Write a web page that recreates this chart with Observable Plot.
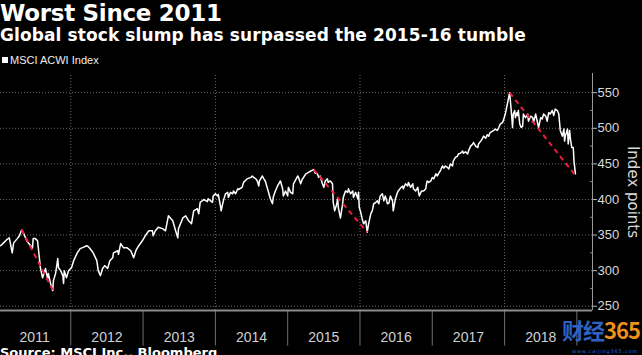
<!DOCTYPE html>
<html>
<head>
<meta charset="utf-8">
<script src="https://cdn.jsdelivr.net/npm/d3@7"></script>
<script src="https://cdn.jsdelivr.net/npm/@observablehq/plot@0.6"></script>
<style>
  html, body { margin: 0; padding: 0; background: #000; }
  body { width: 642px; height: 355px; overflow: hidden; position: relative; font-family: "DejaVu Sans", sans-serif; color: #fff; }
  #title { position: absolute; left: 0; top: 2px; font-weight: bold; font-size: 23px; line-height: 23px; letter-spacing: -0.3px; }
  #subtitle { position: absolute; left: 0; top: 27px; font-weight: bold; font-size: 17px; line-height: 17px; letter-spacing: 0.1px; }
  #legend { position: absolute; left: 2px; top: 54px; font-family: "Liberation Sans", sans-serif; font-size: 11px; line-height: 13px; color: #eee; }
  #legend .sw { display: inline-block; width: 6px; height: 6px; background: #fff; margin-right: 2px; vertical-align: 1px; }
  #chart { position: absolute; left: 0; top: 70px; }
  #source { position: absolute; left: 0; top: 345px; font-weight: bold; font-size: 13px; line-height: 16px; white-space: nowrap; }
  #wm { position: absolute; left: 562px; top: 317px; font-weight: bold; font-size: 22px; line-height: 24px; font-family: "Noto Sans CJK SC", sans-serif; white-space: nowrap; letter-spacing: -1px; }
  #wm .a { color: #2e63c4; } #wm .b { color: #f0901e; }
  #wmurl { position: absolute; left: 572px; top: 348px; font-size: 5px; line-height: 6px; color: #2e63c4; letter-spacing: 0.8px; white-space: nowrap; }
</style>
</head>
<body>
<div id="title">Worst Since 2011</div>
<div id="subtitle">Global stock slump has surpassed the 2015-16 tumble</div>
<div id="legend"><span class="sw"></span>MSCI ACWI Index</div>
<div id="chart"></div>
<div id="source">Source: MSCI Inc., Bloomberg</div>
<div id="wm"><span class="a">财经</span><span class="b">365</span></div>
<div id="wmurl">www.caijing365.com</div>
<script>
// MSCI ACWI Index (decimal year, index points)
const dates = [
2011.03,2011.07,2011.12,2011.15,2011.19,2011.21,2011.26,2011.29,2011.32,2011.35,2011.39,2011.42,2011.47,2011.48,2011.51,2011.54,2011.55,2011.58,2011.61,2011.62,
2011.65,2011.68,2011.69,2011.72,2011.75,2011.76,2011.79,2011.82,2011.83,2011.86,2011.89,2011.90,2011.91,2011.94,2011.97,2012.01,2012.04,2012.09,2012.13,2012.18,
2012.22,2012.25,2012.29,2012.31,2012.36,2012.38,2012.41,2012.44,2012.47,2012.51,2012.54,2012.58,2012.59,2012.65,2012.66,2012.69,2012.73,2012.78,2012.83,2012.87,
2012.90,2012.94,2012.99,2013.03,2013.08,2013.13,2013.14,2013.17,2013.21,2013.27,2013.31,2013.35,2013.41,2013.45,2013.48,2013.49,2013.55,2013.59,2013.63,2013.67,
2013.70,2013.75,2013.77,2013.79,2013.84,2013.89,2013.90,2013.96,2013.97,2014.00,2014.03,2014.04,2014.07,2014.08,2014.11,2014.14,2014.17,2014.18,2014.21,2014.24,
2014.25,2014.28,2014.31,2014.32,2014.37,2014.39,2014.44,2014.49,2014.51,2014.53,2014.56,2014.58,2014.60,2014.61,2014.65,2014.67,2014.69,2014.73,2014.76,2014.79,
2014.80,2014.83,2014.86,2014.90,2014.93,2014.94,2014.97,2015.00,2015.01,2015.04,2015.07,2015.08,2015.14,2015.15,2015.18,2015.20,2015.22,2015.25,2015.27,2015.32,
2015.36,2015.38,2015.41,2015.43,2015.45,2015.48,2015.50,2015.52,2015.55,2015.56,2015.59,2015.62,2015.63,2015.65,2015.68,2015.69,2015.70,2015.73,2015.76,2015.77,
2015.80,2015.83,2015.84,2015.87,2015.90,2015.91,2015.94,2015.97,2015.98,2015.99,2016.01,2016.03,2016.05,2016.08,2016.10,2016.12,2016.15,2016.17,2016.19,2016.21,
2016.24,2016.26,2016.28,2016.31,2016.33,2016.35,2016.38,2016.40,2016.42,2016.45,2016.46,2016.49,2016.52,2016.53,2016.56,2016.59,2016.60,2016.63,2016.66,2016.67,
2016.70,2016.73,2016.74,2016.77,2016.80,2016.81,2016.82,2016.85,2016.88,2016.91,2016.92,2016.93,2016.95,2016.98,2017.00,2017.02,2017.05,2017.07,2017.09,2017.11,
2017.14,2017.16,2017.18,2017.21,2017.23,2017.25,2017.28,2017.29,2017.32,2017.35,2017.36,2017.39,2017.42,2017.43,2017.46,2017.49,2017.50,2017.53,2017.56,2017.57,
2017.60,2017.63,2017.64,2017.67,2017.69,2017.71,2017.74,2017.76,2017.78,2017.80,2017.85,2017.87,2017.90,2017.92,2017.94,2017.97,2017.98,2018.01,2018.04,2018.07,
2018.08,2018.10,2018.11,2018.12,2018.14,2018.15,2018.17,2018.18,2018.19,2018.21,2018.23,2018.25,2018.26,2018.29,2018.32,2018.33,2018.36,2018.39,2018.40,2018.43,
2018.46,2018.47,2018.50,2018.52,2018.54,2018.57,2018.59,2018.61,2018.63,2018.66,2018.68,2018.70,2018.73,2018.75,2018.77,2018.80,2018.82,2018.83,2018.84,2018.87,
2018.88,2018.90,2018.91,2018.93,2018.95,2018.96,2018.98
];
const values = [
335,339,344,346,325,339,345,349,357,352,342,338,332,345,345,342,333,304,290,293,
303,289,296,282,272,286,296,317,304,300,293,282,300,290,300,304,314,325,331,333,
335,333,328,325,314,300,293,303,307,303,314,318,325,328,323,338,332,332,328,318,
328,335,342,349,356,356,349,356,361,359,356,377,370,356,346,359,374,377,370,366,
384,387,380,396,400,397,401,396,405,408,405,407,391,384,398,408,410,403,410,408,
412,408,415,414,417,424,429,431,433,431,429,426,419,426,433,429,426,412,401,394,
403,412,419,426,415,405,412,405,417,410,408,422,433,431,422,428,431,436,437,440,
442,437,436,431,433,422,417,426,429,424,426,422,396,384,394,401,389,374,394,403,
412,410,415,408,412,403,410,401,410,389,382,373,366,370,354,366,380,384,394,395,
398,394,405,408,398,405,394,395,405,398,384,401,410,412,416,419,415,422,419,424,
417,422,415,412,417,410,405,412,412,415,422,426,424,426,431,429,436,433,437,440,
447,444,447,445,443,450,447,454,459,461,464,465,468,465,467,464,468,475,478,480,
475,473,478,482,485,489,486,491,489,494,497,499,497,501,506,508,510,520,535,550,
539,515,501,520,525,515,522,518,525,506,501,503,520,515,520,510,517,515,508,520,
506,501,515,513,520,517,510,522,520,525,518,527,525,520,497,489,499,482,489,499,
478,497,485,473,473,454,436
];

// Red dashed drawdown lines: peak -> trough
const dropFromT = [2011.32, 2015.36, 2018.07];
const dropFromV = [357.7, 442, 550];
const dropToT   = [2011.75, 2016.10, 2018.97];
const dropToV   = [273, 354, 435];

const years = [2011, 2012, 2013, 2014, 2015, 2016, 2017, 2018];
const yearBounds = [2012, 2013, 2014, 2015, 2016, 2017, 2018, 2019];
const gridYears = [2012, 2014, 2016, 2018];
const yTicks = [250, 300, 350, 400, 450, 500, 550];
const yMinor = [275, 325, 375, 425, 475, 525];

const series = dates.map((t, i) => ({t, v: values[i]}));
const drops = dropFromT.map((t, i) => ({t1: t, v1: dropFromV[i], t2: dropToT[i], v2: dropToV[i]}));

const xMin = 2011.028, xMax = 2019.216, yMin = 244, yMax = 577;

const chart = Plot.plot({
  width: 642,
  height: 275,
  marginLeft: 0,
  marginRight: 50,
  marginTop: 3,
  marginBottom: 35,
  style: {background: "#000", color: "#d8d8d8", fontFamily: "Liberation Sans, sans-serif", fontSize: "13px", overflow: "visible"},
  x: {type: "linear", domain: [xMin, xMax], axis: null},
  y: {domain: [yMin, yMax], axis: null},
  marks: [
    Plot.ruleY(yTicks, {stroke: "#6a6a6a", strokeDasharray: "1,2", strokeWidth: 1}),
    Plot.ruleX(gridYears, {y1: yMin, y2: yMax, stroke: "#6a6a6a", strokeDasharray: "1,2", strokeWidth: 1}),
    Plot.ruleX(yearBounds, {y1: yMin, y2: yMin - 50, stroke: "#6f6f6f", strokeWidth: 1}),
    Plot.ruleY([yMin], {stroke: "#8c8c8c", strokeWidth: 2}),
    Plot.ruleX([xMax], {y1: yMin, y2: yMax, stroke: "#9a9a9a", strokeWidth: 1}),
    Plot.axisY(yTicks, {anchor: "right", tickSize: 4, tickPadding: 1, label: null, stroke: "#bbb", fill: "#d8d8d8", fontSize: 13}),
    Plot.axisY(yMinor, {anchor: "right", tickSize: 3, text: null, label: null, stroke: "#888", dx: -3}),
    Plot.text(["Index points"], {frameAnchor: "right", textAnchor: "middle", dx: 40, rotate: 90, fontSize: 15, fill: "#d8d8d8", fontFamily: "DejaVu Sans, sans-serif"}),
    Plot.text(years, {x: d => d + 0.5, y: yMin, dy: 27, text: d => String(d), fill: "#d0d0d0", fontSize: 14}),
    Plot.line(series, {x: "t", y: "v", stroke: "#fff", strokeWidth: 1.5, strokeLinejoin: "round"}),
    Plot.link(drops, {x1: "t1", y1: "v1", x2: "t2", y2: "v2", stroke: "#ec1d40", strokeWidth: 2, strokeDasharray: "5,4"})
  ]
});
document.getElementById("chart").appendChild(chart);
</script>
</body>
</html>
